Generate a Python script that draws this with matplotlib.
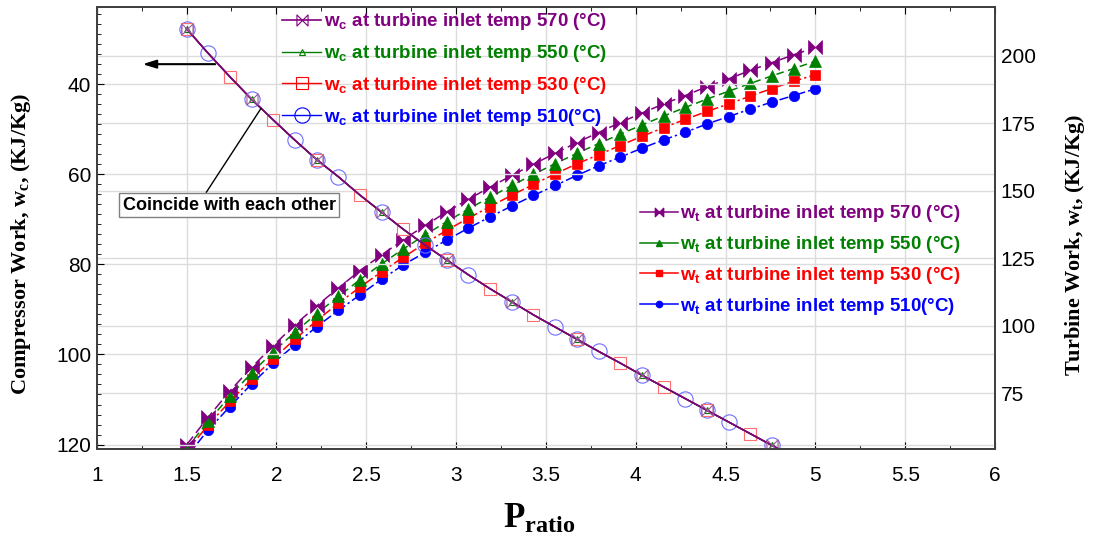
import numpy as np
import matplotlib
matplotlib.use("Agg")
import matplotlib.pyplot as plt
from matplotlib.path import Path
from matplotlib.lines import Line2D
from matplotlib.ticker import MultipleLocator

plt.rcParams['font.family'] = ['Liberation Sans', 'DejaVu Sans']

# pressure ratio points (30 points from 1.5 to 5)
p_ratio = np.linspace(1.5, 5.0, 30)

# compressor work - all four inlet temps give the same curve
wc_570 = [27.6, 33.1, 38.3, 43.3, 47.9, 52.4, 56.7, 60.5, 64.6, 68.4, 72.2, 75.7, 79.0, 82.3, 85.4,
          88.3, 91.2, 93.9, 96.6, 99.3, 101.9, 104.6, 107.2, 109.8, 112.4, 115.0, 117.6, 120.2, 122.7, 125.3]
wc_550 = list(wc_570)
wc_530 = list(wc_570)
wc_510 = list(wc_570)

# turbine work for each inlet temp
wt_570 = [55.9, 66.2, 75.9, 84.6, 92.7, 100.4, 107.4, 114.0, 120.5, 126.3, 131.9, 137.2, 142.2, 146.9, 151.4,
          155.7, 159.9, 163.9, 167.9, 171.6, 175.3, 178.8, 182.2, 185.3, 188.6, 191.5, 194.6, 197.5, 200.4, 203.1]
wt_550 = [54.7, 64.6, 74.0, 82.6, 90.4, 97.7, 104.5, 110.9, 117.1, 123.0, 128.5, 133.7, 138.6, 143.3, 147.7,
          152.0, 156.1, 160.1, 163.9, 167.5, 171.0, 174.4, 177.7, 180.9, 184.0, 186.9, 189.8, 192.6, 195.3, 198.0]
wt_530 = [53.5, 63.3, 72.0, 80.3, 87.8, 95.1, 101.9, 108.4, 114.3, 120.1, 125.4, 130.6, 135.4, 139.9, 144.2,
          148.4, 152.4, 156.3, 160.0, 163.4, 166.8, 170.2, 173.4, 176.5, 179.4, 182.2, 185.1, 187.9, 190.6, 193.0]
wt_510 = [51.5, 61.5, 70.1, 78.5, 86.2, 93.0, 99.7, 105.7, 111.5, 117.3, 122.6, 127.2, 131.8, 136.2, 140.4,
          144.4, 148.3, 152.0, 155.7, 159.3, 162.5, 165.8, 168.9, 171.7, 174.8, 177.5, 180.3, 182.9, 185.3, 187.8]

temps = ["570 (°C)", "550 (°C)", "530 (°C)", "510(°C)"]
colors = ["#800080", "#008000", "#ff0000", "#0000ff"]

# bow-tie marker (two triangles meeting in the middle)
bowtie = Path([(-1, -1), (0, 0), (-1, 1), (-1, -1), (1, -1), (0, 0), (1, 1), (1, -1)],
              [Path.MOVETO, Path.LINETO, Path.LINETO, Path.CLOSEPOLY,
               Path.MOVETO, Path.LINETO, Path.LINETO, Path.CLOSEPOLY])

fig = plt.figure(figsize=(10.95, 5.38), dpi=100)
ax = fig.add_axes([0.0883, 0.1654, 0.8204, 0.8216])   # turbine work (right scale)
ax2 = ax.twinx()                                      # compressor work (left scale)
ax2.yaxis.tick_left()
ax2.yaxis.set_label_position('left')
ax.yaxis.tick_right()
ax.yaxis.set_label_position('right')

# turbine work curves
wt_series = [wt_570, wt_550, wt_530, wt_510]
wt_markers = [bowtie, '^', 's', 'o']
wt_sizes = [10, 8, 7.5, 7.5]
wt_styles = [(0, (7, 3)), (0, (5, 3)), (0, (6, 2, 1.5, 2)), (0, (6, 2, 1.5, 2))]
for vals, c, mk, ms, ls, z in zip(wt_series, colors, wt_markers, wt_sizes, wt_styles, [5, 4, 3, 2]):
    ax.plot(p_ratio, vals, color=c, ls=ls, lw=1.1, marker=mk, ms=ms, mfc=c, mec=c, mew=0.5, zorder=z)

# compressor work curves (they sit on top of each other)
blue_idx = [i for i in range(30) if i % 2 == 1 or i % 3 == 0]
ax2.plot(p_ratio, wc_510, color=colors[3], lw=1, marker='o', ms=11, mfc='none', mec='#6f6fff', mew=0.8,
         markevery=blue_idx)
ax2.plot(p_ratio, wc_530, color=colors[2], lw=1, marker='s', ms=9, mfc='none', mec='#ff6f6f', mew=0.8,
         markevery=list(range(0, 30, 2)))
ax2.plot(p_ratio, wc_550, color=colors[1], lw=1, marker='^', ms=5, mfc='none', mec=colors[1], mew=0.8,
         markevery=list(range(0, 30, 3)))
ax2.plot(p_ratio, wc_570, color=colors[0], lw=1.2, marker=bowtie, ms=8, mfc='none', mec='#9a5a9a', mew=0.8,
         markevery=list(range(0, 30, 3)))

# axes limits and ticks
ax.set_xlim(1, 6)
ax.set_ylim(54.4, 218.1)
ax2.set_ylim(121, 22.8)
ax.xaxis.set_major_locator(MultipleLocator(0.5))
ax.xaxis.set_minor_locator(MultipleLocator(0.25))
ax.yaxis.set_major_locator(MultipleLocator(25))
ax2.yaxis.set_major_locator(MultipleLocator(20))
ax2.yaxis.set_minor_locator(MultipleLocator(20 / 9))
ax.set_xticks(np.arange(1, 6.01, 0.5))
ax.set_xticklabels(["1", "1.5", "2", "2.5", "3", "3.5", "4", "4.5", "5", "5.5", "6"])

ax.tick_params(axis='x', which='both', direction='in', top=True, bottom=True, labelsize=15, pad=12)
ax.tick_params(axis='x', which='major', length=5)
ax.tick_params(axis='x', which='minor', length=3)
ax.tick_params(axis='y', which='both', length=0, labelsize=15, pad=4)
ax2.tick_params(axis='y', which='major', direction='in', length=5, labelsize=15, pad=4)
ax2.tick_params(axis='y', which='minor', direction='in', length=3)

ax.grid(True, which='major', color='#dcdcdc', lw=1)
ax2.grid(True, axis='y', which='major', color='#dcdcdc', lw=1)
ax.set_axisbelow(True)
for a in (ax, ax2):
    for sp in a.spines.values():
        sp.set_color('#404040')
        sp.set_linewidth(1.3)

# axis titles
ax2.set_ylabel(r"Compressor Work, $\mathregular{w_c}$, (KJ/Kg)", family='Liberation Serif',
               fontweight='bold', fontsize=16)
ax.set_ylabel(r"Turbine Work, $\mathregular{w_t}$, (KJ/Kg)", family='Liberation Serif',
              fontweight='bold', fontsize=16)
ax.set_xlabel(r"$\mathregular{P_{ratio}}$", family='Liberation Serif', fontweight='bold', fontsize=25)
ax2.yaxis.set_label_coords(-0.071, 0.464)
ax.yaxis.set_label_coords(1.076, 0.462)
ax.xaxis.set_label_coords(0.493, -0.122)

# legends
leg_font = dict(family='Liberation Sans', weight='bold', size=13.5)
wc_handles = [
    Line2D([], [], color=colors[0], lw=1.2, marker=bowtie, ms=8, mfc='none', mec=colors[0], mew=0.8),
    Line2D([], [], color=colors[1], lw=1, marker='^', ms=5, mfc='none', mec=colors[1], mew=0.8),
    Line2D([], [], color=colors[2], lw=1, marker='s', ms=9, mfc='none', mec=colors[2], mew=0.8),
    Line2D([], [], color=colors[3], lw=1, marker='o', ms=11, mfc='none', mec=colors[3], mew=0.8),
]
wc_labels = [r"$\mathregular{w_c}$ at turbine inlet temp " + t for t in temps]
leg1 = ax2.legend(wc_handles, wc_labels, loc='upper left', bbox_to_anchor=(0.2575, 0.979),
                  bbox_transform=fig.transFigure, frameon=False, prop=leg_font, handlelength=2.1,
                  handletextpad=0.15, labelspacing=0.58, borderaxespad=0, borderpad=0)
for txt, c in zip(leg1.get_texts(), colors):
    txt.set_color(c)
ax2.add_artist(leg1)

wt_handles = [Line2D([], [], color=c, lw=1.1, marker=mk, ms=ms * 0.6, mfc=c, mec=c)
              for c, mk, ms in zip(colors, wt_markers, wt_sizes)]
wt_labels = [r"$\mathregular{w_t}$ at turbine inlet temp " + t for t in temps]
leg2 = ax2.legend(wt_handles, wt_labels, loc='upper left', bbox_to_anchor=(0.5845, 0.622),
                  bbox_transform=fig.transFigure, frameon=False, prop=leg_font, handlelength=2.0,
                  handletextpad=0.15, labelspacing=0.52, borderaxespad=0, borderpad=0)
for txt, c in zip(leg2.get_texts(), colors):
    txt.set_color(c)

# arrow pointing to the compressor work axis
ax2.annotate('', xy=(1.24, 35.5), xytext=(1.675, 35.5),
             arrowprops=dict(arrowstyle='-|>,head_width=0.25,head_length=0.8', color='black', lw=1.5))
ax2.annotate('Coincide with each other', xy=(1.915, 45.3), xytext=(1.737, 66.8),
             ha='center', va='center', fontsize=13, fontweight='bold',
             bbox=dict(boxstyle='square,pad=0.2', fc='white', ec='gray', lw=1),
             arrowprops=dict(arrowstyle='-', color='black', lw=1, relpos=(0.38, 1.0), shrinkA=0, shrinkB=0))

plt.savefig('out.png', dpi=100)
